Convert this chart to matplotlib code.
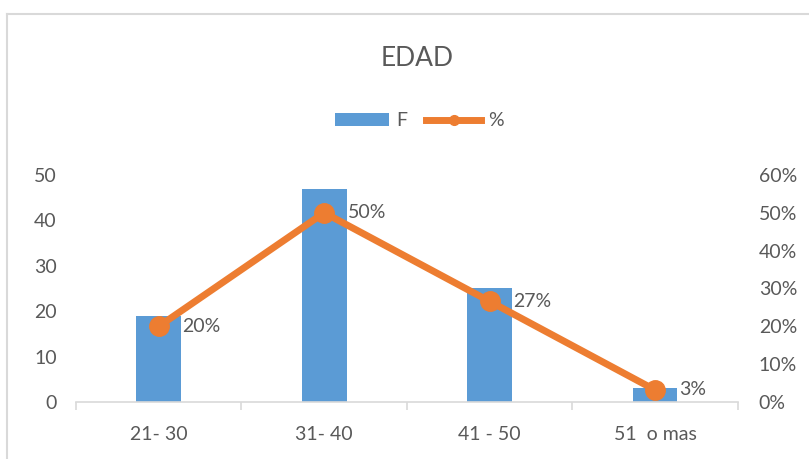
import matplotlib
matplotlib.use("Agg")
import matplotlib.pyplot as plt
from matplotlib.lines import Line2D
from matplotlib.patches import Patch
from matplotlib.ticker import PercentFormatter
import numpy as np

categories = ["21- 30", "31- 40", "41 - 50", "51  o mas"]
frecuencia = [19, 47, 25, 3]
porcentaje = [0.20, 0.50, 0.266, 0.032]
etiquetas = ["20%", "50%", "27%", "3%"]

BLUE = "#5B9BD5"
ORANGE = "#ED7D31"
TEXT = "#595959"
AXIS = "#D9D9D9"

plt.rcParams["font.family"] = ["Lato", "DejaVu Sans"]

fig = plt.figure(figsize=(8.09, 4.59), dpi=100)
ax = fig.add_axes([0.094, 0.124, 0.818, 0.495])
ax2 = ax.twinx()

x = np.arange(len(categories))
ax.bar(x, frecuencia, width=0.27, color=BLUE, zorder=2)
ax2.plot(x, porcentaje, color=ORANGE, lw=5, marker="o", ms=14, zorder=3)

for xi, p, lab in zip(x, porcentaje, etiquetas):
    ax2.annotate(lab, (xi, p), xytext=(17, 0), textcoords="offset points",
                 ha="left", va="center", fontsize=14, color=TEXT)

ax.set_xlim(-0.5, len(categories) - 0.5)
ax.set_ylim(0, 50)
ax2.set_ylim(0, 0.6)
ax.set_yticks(range(0, 51, 10))
ax2.set_yticks(np.arange(0, 0.61, 0.1))
ax2.yaxis.set_major_formatter(PercentFormatter(1.0, decimals=0))

ax.set_xticks(x)
ax.set_xticklabels(categories)
ax.set_xticks(np.arange(-0.5, len(categories), 1.0), minor=True)
ax.tick_params(axis="x", which="major", length=0, pad=17, labelsize=14, colors=TEXT)
ax.tick_params(axis="x", which="minor", length=6, color=AXIS, width=1.2)
ax.tick_params(axis="y", length=0, pad=14, labelsize=14, colors=TEXT)
ax2.tick_params(axis="y", length=0, pad=15, labelsize=14, colors=TEXT)

for a in (ax, ax2):
    for side in ("top", "left", "right"):
        a.spines[side].set_visible(False)
ax2.spines["bottom"].set_visible(False)
ax.spines["bottom"].set_color(AXIS)
ax.spines["bottom"].set_linewidth(1.2)

fig.text(0.516, 0.873, "EDAD", ha="center", va="center", fontsize=19, color=TEXT)

# legend handles: flat bar swatch and a line with a small marker
h_bar = Patch(facecolor=BLUE, edgecolor="none")
h_line = Line2D([], [], color=ORANGE, lw=5, marker="o", ms=7)
fig.legend(handles=[h_bar, h_line], labels=["F", "%"], loc="center",
           bbox_to_anchor=(0.518, 0.737), ncol=2, frameon=False, fontsize=14,
           labelcolor=TEXT, handlelength=2.8, handleheight=0.6,
           handletextpad=0.35, columnspacing=1.0)

# chart frame
fig.add_artist(Line2D([0.009, 1.0], [0.969, 0.969], color=AXIS, lw=1.5,
                      transform=fig.transFigure))
fig.add_artist(Line2D([0.009, 0.009], [0.0, 0.969], color=AXIS, lw=1.5,
                      transform=fig.transFigure))

fig.savefig("out.png", dpi=100)
